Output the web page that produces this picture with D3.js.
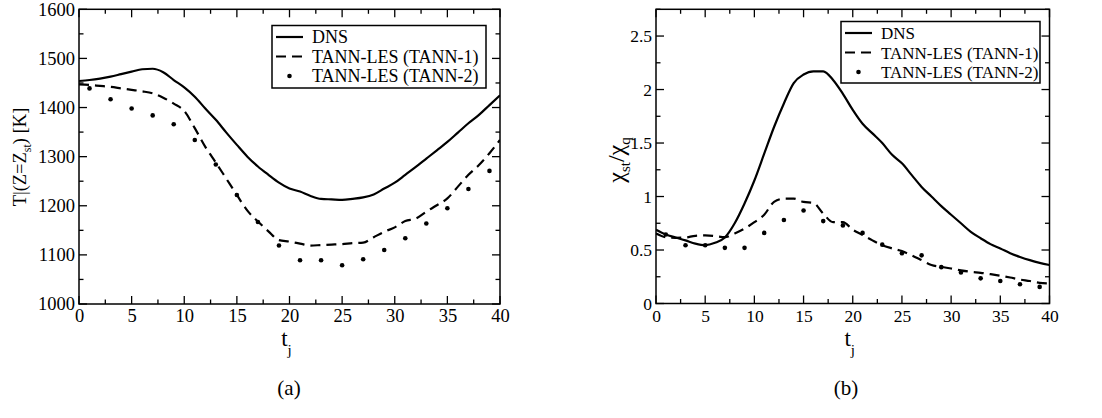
<!DOCTYPE html>
<html><head><meta charset="utf-8">
<script src="https://cdn.jsdelivr.net/npm/d3@7"></script>
<style>body{margin:0;background:#fff}svg{display:block}</style>
</head><body>
<script>
const tLine = d3.range(0, 41, 1);
const tDots = d3.range(1, 40, 2);
const xTicks = [0, 5, 10, 15, 20, 25, 30, 35, 40];
const yTicksA = [1000, 1100, 1200, 1300, 1400, 1500, 1600];
const yTicksB = [0, 0.5, 1, 1.5, 2, 2.5];
const seriesNames = ["DNS", "TANN-LES (TANN-1)", "TANN-LES (TANN-2)"];

const dnsTemp = [1454,1456,1459,1463,1468,1473,1478,1479,1472,1456,1441,1422,1398,1375,1349,1324,1300,1280,1263,1247,1235,1229,1220,1214,1213,1212,1214,1217,1223,1235,1247,1263,1279,1296,1313,1330,1349,1368,1385,1405,1425];
const tann1Temp = [1447,1446,1444,1442,1439,1436,1433,1429,1420,1408,1393,1358,1320,1288,1255,1222,1190,1168,1148,1130,1127,1123,1119,1120,1121,1122,1124,1125,1136,1147,1156,1169,1174,1188,1201,1215,1239,1263,1283,1307,1334];
const tann2Temp = [1439,1417,1398,1384,1366,1334,1284,1222,1167,1119,1089,1089,1079,1091,1110,1134,1164,1195,1234,1271];

const dnsChi = [0.69,0.645,0.617,0.59,0.56,0.545,0.567,0.617,0.75,0.935,1.15,1.40,1.65,1.87,2.06,2.14,2.17,2.17,2.09,1.96,1.81,1.68,1.59,1.50,1.39,1.31,1.20,1.09,1.00,0.91,0.83,0.75,0.67,0.61,0.555,0.515,0.47,0.435,0.405,0.38,0.36];
const tann1Chi = [0.655,0.62,0.614,0.617,0.633,0.636,0.63,0.62,0.655,0.70,0.76,0.83,0.95,0.98,0.98,0.95,0.94,0.84,0.76,0.76,0.69,0.64,0.59,0.545,0.515,0.49,0.45,0.405,0.36,0.343,0.327,0.31,0.296,0.287,0.274,0.26,0.243,0.224,0.21,0.193,0.187];
const tann2Chi = [0.645,0.545,0.545,0.52,0.52,0.66,0.78,0.87,0.77,0.73,0.66,0.55,0.47,0.45,0.34,0.29,0.235,0.21,0.18,0.155];

const F = "Liberation Serif";
const svg = d3.select("body").append("svg").attr("width", 1102).attr("height", 418).attr("font-family", F);
svg.append("rect").attr("width", 1102).attr("height", 418).attr("fill", "#fff");

function panel(cfg) {
  const x = d3.scaleLinear().domain([0, 40]).range([cfg.x0, cfg.x1]);
  const y = d3.scaleLinear().domain(cfg.yDomain).range([cfg.y1, cfg.y0]);
  const g = svg.append("g");
  const xMinor = d3.range(0, 40.01, 2.5);
  const yMinor = d3.range(cfg.yDomain[0], cfg.yDomain[1] + 1e-9, cfg.yMinorStep);
  const tk = g.append("g").attr("stroke", "#000").attr("stroke-width", 1.3);
  xMinor.forEach(v => {
    const major = Math.abs(v % 5) < 1e-9;
    const L = major ? 8 : 4.5;
    tk.append("line").attr("x1", x(v)).attr("x2", x(v)).attr("y1", cfg.y1).attr("y2", cfg.y1 - L);
    tk.append("line").attr("x1", x(v)).attr("x2", x(v)).attr("y1", cfg.y0).attr("y2", cfg.y0 + L);
  });
  yMinor.forEach(v => {
    const major = cfg.yTicks.some(t => Math.abs(t - v) < 1e-9);
    const L = major ? 8 : 4.5;
    tk.append("line").attr("y1", y(v)).attr("y2", y(v)).attr("x1", cfg.x0).attr("x2", cfg.x0 + L);
    tk.append("line").attr("y1", y(v)).attr("y2", y(v)).attr("x1", cfg.x1).attr("x2", cfg.x1 - L);
  });
  const xAxis = d3.axisBottom(x).tickValues(xTicks).tickSize(0).tickPadding(0);
  const xa = g.append("g").attr("transform", `translate(0,${cfg.y1})`).call(xAxis);
  xa.attr("font-family", F).attr("font-size", cfg.tickFs);
  xa.select(".domain").remove();
  xa.selectAll("text").attr("dy", null).attr("y", 18);
  const yAxis = d3.axisLeft(y).tickValues(cfg.yTicks).tickSize(0).tickPadding(4).tickFormat(cfg.fmt);
  const ya = g.append("g").attr("transform", `translate(${cfg.x0},0)`).call(yAxis);
  ya.attr("font-family", F).attr("font-size", cfg.tickFs);
  ya.select(".domain").remove();
  const clip = "clip" + cfg.id;
  svg.append("clipPath").attr("id", clip).append("rect")
    .attr("x", cfg.x0).attr("y", cfg.y0).attr("width", cfg.x1 - cfg.x0).attr("height", cfg.y1 - cfg.y0);
  const dg = g.append("g").attr("clip-path", `url(#${clip})`);
  const line = d3.line().x((d, i) => x(tLine[i])).y(d => y(d)).curve(d3.curveMonotoneX);
  dg.append("path").attr("d", line(cfg.dns)).attr("fill", "none").attr("stroke", "#000").attr("stroke-width", 2.2);
  dg.append("path").attr("d", line(cfg.tann1)).attr("fill", "none").attr("stroke", "#000").attr("stroke-width", 2.2).attr("stroke-dasharray", "10,6");
  dg.selectAll("circle.dot").data(cfg.tann2).enter().append("circle")
    .attr("cx", (d, i) => x(tDots[i])).attr("cy", d => y(d)).attr("r", 2.3).attr("fill", "#000");
  g.append("rect").attr("x", cfg.x0).attr("y", cfg.y0).attr("width", cfg.x1 - cfg.x0).attr("height", cfg.y1 - cfg.y0)
    .attr("fill", "none").attr("stroke", "#000").attr("stroke-width", 1.5);
  const lg = g.append("g").attr("font-family", F);
  lg.append("rect").attr("x", cfg.lx0).attr("y", cfg.ly0).attr("width", cfg.lx1 - cfg.lx0).attr("height", cfg.ly1 - cfg.ly0)
    .attr("fill", "#fff").attr("stroke", "#000").attr("stroke-width", 1.5);
  seriesNames.forEach((name, i) => {
    const yy = cfg.ly0 + 11.5 + i * 19.5;
    const sx0 = cfg.lx0 + 4, sx1 = cfg.lx0 + 31;
    if (i === 0) lg.append("line").attr("x1", sx0).attr("x2", sx1).attr("y1", yy).attr("y2", yy).attr("stroke", "#000").attr("stroke-width", 2.2);
    if (i === 1) lg.append("line").attr("x1", sx0).attr("x2", sx1).attr("y1", yy).attr("y2", yy).attr("stroke", "#000").attr("stroke-width", 2.2).attr("stroke-dasharray", "10,6");
    if (i === 2) lg.append("circle").attr("cx", (sx0 + sx1) / 2).attr("cy", yy).attr("r", 2.3).attr("fill", "#000");
    lg.append("text").attr("x", cfg.lx0 + 40).attr("y", yy + 6).attr("font-size", cfg.legFs).text(name);
  });
  const cx = (cfg.x0 + cfg.x1) / 2;
  const xl = g.append("text").attr("x", cx - 3).attr("y", 346).attr("font-size", 23).attr("text-anchor", "middle");
  xl.append("tspan").text("t");
  xl.append("tspan").attr("font-size", 15).attr("dy", 9).text("j");
  g.append("text").attr("x", cfg.capX).attr("y", 395).attr("font-size", 21).attr("text-anchor", "middle").text(cfg.caption);
  return g;
}

panel({id: "a", x0: 79, x1: 500, y0: 9.3, y1: 304, yDomain: [1000, 1600], yTicks: yTicksA, yMinorStep: 50,
  fmt: d3.format("d"), dns: dnsTemp, tann1: tann1Temp, tann2: tann2Temp, tickFs: 18.5, legFs: 18,
  lx0: 272, lx1: 486, ly0: 25.5, ly1: 88, caption: "(a)", capX: 289});
panel({id: "b", x0: 656, x1: 1049.5, y0: 9.3, y1: 303.5, yDomain: [0, 2.75], yTicks: yTicksB, yMinorStep: 0.25,
  fmt: d => d3.format("")(d), dns: dnsChi, tann1: tann1Chi, tann2: tann2Chi, tickFs: 17.5, legFs: 17,
  lx0: 841, lx1: 1040, ly0: 21.5, ly1: 83, caption: "(b)", capX: 846});

const yl1 = svg.append("text").attr("transform", "translate(26,157) rotate(-90)").attr("text-anchor", "middle").attr("font-size", 18.5);
yl1.append("tspan").text("T|(Z=Z");
yl1.append("tspan").attr("font-size", 12).attr("dy", 5).text("st");
yl1.append("tspan").attr("dy", -5).text(") [K]");
const yl2 = svg.append("text").attr("transform", "translate(624,160) rotate(-90)").attr("text-anchor", "middle").attr("font-size", 24);
yl2.append("tspan").text("χ");
yl2.append("tspan").attr("font-size", 15).attr("dy", 6).text("st");
yl2.append("tspan").attr("dy", -6).text("/χ");
yl2.append("tspan").attr("font-size", 15).attr("dy", 6).text("q");
</script>
</body></html>
